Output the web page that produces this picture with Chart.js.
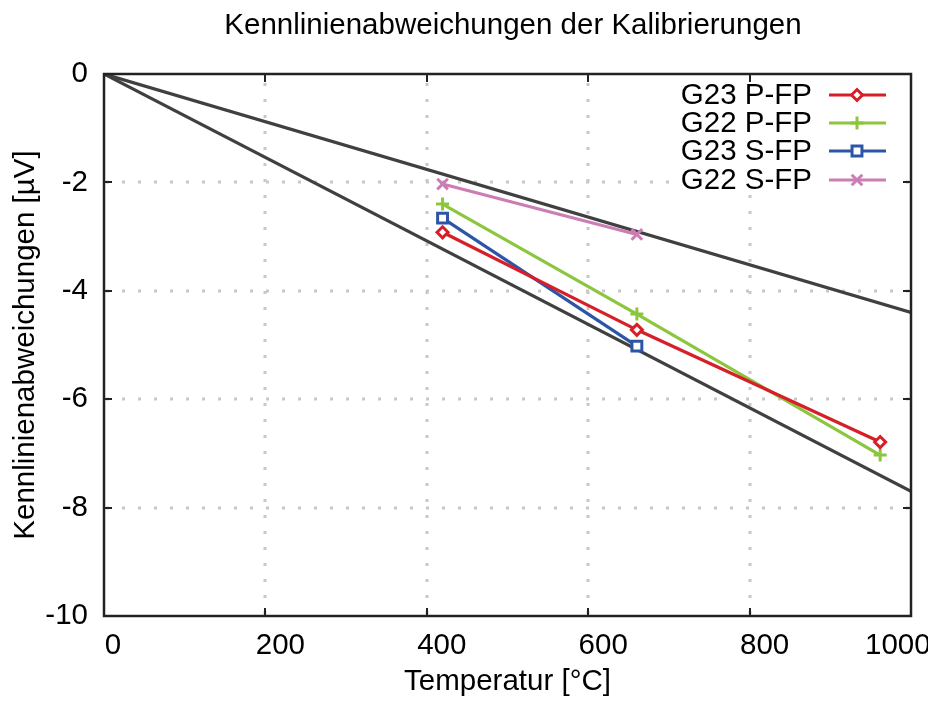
<!DOCTYPE html>
<html>
<head>
<meta charset="utf-8">
<script src="https://cdn.jsdelivr.net/npm/chart.js@4/dist/chart.umd.min.js"></script>
<style>
  body { margin: 0; background: #fff; }
  #wrap { width: 928px; height: 704px; }
</style>
</head>
<body>
<div id="wrap"><canvas id="chart" width="928" height="704"></canvas></div>
<script>
// Fixpunkte (Zn, Al, Ag) in °C
const fixedPoints = [419.527, 660.323, 961.78];
const seriesNames = ['G23 P-FP', 'G22 P-FP', 'G23 S-FP', 'G22 S-FP'];
const g23PFP = [-2.92, -4.72, -6.79];
const g22PFP = [-2.40, -4.43, -7.03];
const g23SFP = [-2.66, -5.02];
const g22SFP = [-2.03, -2.96];

// Grenzlinien
const limitTemps = [0, 1000];
const upperLimit = [0, -4.4];
const lowerLimit = [0, -7.7];

const xTicks = [0, 200, 400, 600, 800, 1000];
const yTicks = [0, -2, -4, -6, -8, -10];

const FONT = "'Liberation Sans', Arial, sans-serif";
const FS = 29.5;

function pts(xs, ys) {
    return ys.map((y, i) => ({ x: xs[i], y: y }));
}

const colors = ['#d61f28', '#8cc63e', '#2c56a5', '#cb7db4'];
const styles = ['rectRot', 'cross', 'rect', 'crossRot'];
const radii = [5.5, 6.5, 7, 7.5];
const values = [g23PFP, g22PFP, g23SFP, g22SFP];

const datasets = values.map((v, i) => ({
    label: seriesNames[i],
    data: pts(fixedPoints, v),
    borderColor: colors[i],
    backgroundColor: '#fff',
    pointBorderColor: colors[i],
    pointBackgroundColor: '#fff',
    pointStyle: styles[i],
    pointRadius: radii[i],
    pointBorderWidth: 3,
    borderWidth: 3.2,
    tension: 0,
    order: 0
}));

[upperLimit, lowerLimit].forEach(lim => {
    datasets.push({
        label: '',
        data: pts(limitTemps, lim),
        borderColor: '#404040',
        borderWidth: 3.2,
        pointRadius: 0,
        tension: 0,
        order: 1
    });
});

// grid dots, frame, inner ticks, legend, title, x tick labels
const decor = {
    id: 'decor',
    beforeDatasetsDraw(chart) {
        const { ctx, chartArea: a, scales: { x, y } } = chart;
        ctx.save();
        ctx.strokeStyle = '#c8c8c8';
        ctx.lineWidth = 3;
        ctx.setLineDash([3, 13]);
        xTicks.slice(1, -1).forEach(v => {
            const px = Math.round(x.getPixelForValue(v));
            ctx.beginPath();
            ctx.moveTo(px, a.bottom - 2);
            ctx.lineTo(px, a.top);
            ctx.stroke();
        });
        yTicks.slice(1, -1).forEach(v => {
            const py = Math.round(y.getPixelForValue(v));
            ctx.beginPath();
            ctx.moveTo(a.left + 2, py);
            ctx.lineTo(a.right, py);
            ctx.stroke();
        });
        ctx.restore();

        // legend background covers the grid
        ctx.save();
        ctx.fillStyle = '#fff';
        ctx.fillRect(672, 78, 224, 116);
        ctx.restore();
    },
    afterDatasetsDraw(chart) {
        const { ctx, chartArea: a, scales: { x, y } } = chart;
        ctx.save();
        // legend
        ctx.font = FS + 'px ' + FONT;
        ctx.textAlign = 'right';
        ctx.textBaseline = 'middle';
        const rowY = [95, 123, 151, 180];
        seriesNames.forEach((name, i) => {
            const ly = rowY[i];
            ctx.fillStyle = '#000';
            ctx.fillText(name, 812, ly + 1);
            ctx.strokeStyle = colors[i];
            ctx.lineWidth = 3.2;
            ctx.beginPath();
            ctx.moveTo(829, ly);
            ctx.lineTo(886, ly);
            ctx.stroke();
            ctx.lineWidth = 3;
            ctx.fillStyle = '#fff';
            Chart.helpers.drawPoint(ctx, {
                pointStyle: styles[i], radius: radii[i], rotation: 0, borderWidth: 3
            }, 857, ly);
        });

        // frame
        ctx.strokeStyle = '#222';
        ctx.lineWidth = 2.5;
        ctx.strokeRect(a.left, a.top, a.right - a.left, a.bottom - a.top);

        // inward ticks
        ctx.lineWidth = 2;
        ctx.beginPath();
        xTicks.slice(1, -1).forEach(v => {
            const px = Math.round(x.getPixelForValue(v));
            ctx.moveTo(px, a.bottom); ctx.lineTo(px, a.bottom - 8);
            ctx.moveTo(px, a.top); ctx.lineTo(px, a.top + 8);
        });
        yTicks.slice(1, -1).forEach(v => {
            const py = Math.round(y.getPixelForValue(v));
            ctx.moveTo(a.left, py); ctx.lineTo(a.left + 8, py);
            ctx.moveTo(a.right, py); ctx.lineTo(a.right - 8, py);
        });
        ctx.stroke();

        // x tick labels
        ctx.fillStyle = '#000';
        ctx.textBaseline = 'middle';
        xTicks.forEach((v, i) => {
            const px = x.getPixelForValue(v);
            if (i === 0) {
                ctx.textAlign = 'center';
                ctx.fillText(String(v), px + 9, 646);
            } else if (i === xTicks.length - 1) {
                ctx.textAlign = 'left';
                ctx.fillText(String(v), 865, 646);
            } else {
                ctx.textAlign = 'center';
                ctx.fillText(String(v), px + 15, 646);
            }
        });

        // title
        ctx.textAlign = 'center';
        ctx.fillText('Kennlinienabweichungen der Kalibrierungen', 513, 26);
        ctx.restore();
    }
};

Chart.defaults.font.family = FONT;
Chart.defaults.font.size = FS;
Chart.defaults.color = '#000';

new Chart(document.getElementById('chart').getContext('2d'), {
    type: 'line',
    data: { datasets: datasets },
    options: {
        responsive: false,
        devicePixelRatio: 1,
        animation: false,
        layout: { padding: { top: 74, right: 17, left: 0, bottom: 0 } },
        plugins: {
            legend: { display: false },
            title: { display: false },
            tooltip: { enabled: false }
        },
        scales: {
            x: {
                type: 'linear',
                min: 0,
                max: 1000,
                afterFit: s => { s.height = 88; },
                afterBuildTicks: s => { s.ticks = xTicks.map(v => ({ value: v })); },
                grid: { display: false, drawTicks: false },
                border: { display: false },
                ticks: { display: false },
                title: {
                    display: true,
                    text: 'Temperatur [°C]',
                    font: { size: FS },
                    padding: { top: 0, bottom: 4 }
                }
            },
            y: {
                type: 'linear',
                min: -10,
                max: 0,
                afterFit: s => { s.width = 104; },
                afterBuildTicks: s => { s.ticks = yTicks.map(v => ({ value: v })); },
                grid: { display: false, drawTicks: false },
                border: { display: false },
                ticks: { padding: 16, font: { size: FS } },
                title: {
                    display: true,
                    text: 'Kennlinienabweichungen [µV]',
                    font: { size: FS },
                    padding: { top: 8, bottom: 0 }
                }
            }
        }
    },
    plugins: [decor]
});
</script>
</body>
</html>
